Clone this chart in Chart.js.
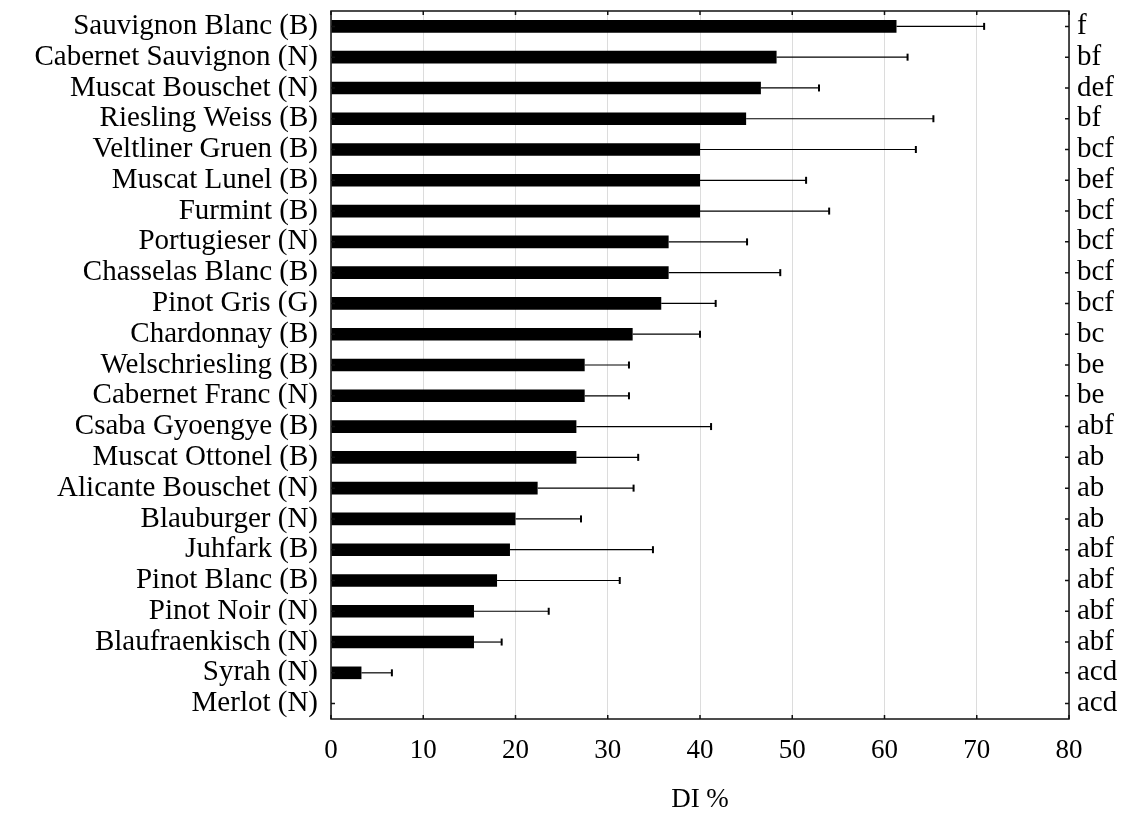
<!DOCTYPE html>
<html>
<head>
<meta charset="utf-8">
<script src="https://cdn.jsdelivr.net/npm/chart.js@4.4.1/dist/chart.umd.min.js"></script>
<style>
  html, body { margin: 0; padding: 0; background: #fff; }
  #wrap { width: 1128px; height: 816px; }
</style>
</head>
<body>
<div id="wrap"><canvas id="chart" width="1128" height="816"></canvas></div>
<script>
const varieties = [
    "Sauvignon Blanc (B)", "Cabernet Sauvignon (N)", "Muscat Bouschet (N)", "Riesling Weiss (B)",
    "Veltliner Gruen (B)", "Muscat Lunel (B)", "Furmint (B)", "Portugieser (N)",
    "Chasselas Blanc (B)", "Pinot Gris (G)", "Chardonnay (B)", "Welschriesling (B)",
    "Cabernet Franc (N)", "Csaba Gyoengye (B)", "Muscat Ottonel (B)", "Alicante Bouschet (N)",
    "Blauburger (N)", "Juhfark (B)", "Pinot Blanc (B)", "Pinot Noir (N)",
    "Blaufraenkisch (N)", "Syrah (N)", "Merlot (N)"
];
const diValues = [
    61.3, 48.3, 46.6, 45.0, 40.0, 40.0, 40.0, 36.6,
    36.6, 35.8, 32.7, 27.5, 27.5, 26.6, 26.6, 22.4,
    20.0, 19.4, 18.0, 15.5, 15.5, 3.3, 0
];
// end of the error bar (mean + error)
const diUpper = [
    70.8, 62.5, 52.9, 65.3, 63.4, 51.5, 54.0, 45.1,
    48.7, 41.7, 40.0, 32.3, 32.3, 41.2, 33.3, 32.8,
    27.1, 34.9, 31.3, 23.6, 18.5, 6.6, 0
];
const groups = [
    "f", "bf", "def", "bf", "bcf", "bef", "bcf", "bcf",
    "bcf", "bcf", "bc", "be", "be", "abf", "ab", "ab",
    "ab", "abf", "abf", "abf", "abf", "acd", "acd"
];
const xTicks = [0, 10, 20, 30, 40, 50, 60, 70, 80];

const serif = "'Liberation Serif', 'DejaVu Serif', serif";

const frameAndErrors = {
    id: "frameAndErrors",
    afterDatasetsDraw(chart) {
        const ctx = chart.ctx;
        const x = chart.scales.x;
        const y = chart.scales.y;
        ctx.save();
        ctx.strokeStyle = "#000";
        diUpper.forEach((hi, i) => {
            const yc = y.getPixelForValue(i);
            const x0 = x.getPixelForValue(diValues[i]);
            const x1 = x.getPixelForValue(hi);
            if (x1 - x0 < 1) return;
            ctx.lineWidth = 1.2;
            ctx.beginPath();
            ctx.moveTo(x0, yc);
            ctx.lineTo(x1, yc);
            ctx.stroke();
            ctx.lineWidth = 2;
            ctx.beginPath();
            ctx.moveTo(x1, yc - 3.5);
            ctx.lineTo(x1, yc + 3.5);
            ctx.stroke();
        });
        ctx.restore();
    },
    afterDraw(chart) {
        const ctx = chart.ctx;
        const a = chart.chartArea;
        const x = chart.scales.x;
        const y = chart.scales.y;
        ctx.save();
        ctx.strokeStyle = "#111";
        ctx.lineWidth = 1.5;
        ctx.strokeRect(a.left, a.top, a.right - a.left, a.bottom - a.top);
        ctx.beginPath();
        xTicks.forEach(v => {
            const px = x.getPixelForValue(v);
            ctx.moveTo(px, a.top);
            ctx.lineTo(px, a.top + 4);
            ctx.moveTo(px, a.bottom);
            ctx.lineTo(px, a.bottom - 4);
        });
        varieties.forEach((_, i) => {
            const py = y.getPixelForValue(i);
            ctx.moveTo(a.left, py);
            ctx.lineTo(a.left + 4, py);
            ctx.moveTo(a.right, py);
            ctx.lineTo(a.right - 4, py);
        });
        ctx.stroke();
        ctx.restore();
    }
};

function noVertPad(scale, width) {
    scale.width = width;
    scale.paddingTop = 0;
    scale.paddingBottom = 0;
}

new Chart(document.getElementById("chart"), {
    type: "bar",
    data: {
        labels: varieties,
        datasets: [{
            label: "DI %",
            data: diValues,
            backgroundColor: "#000",
            borderWidth: 0,
            barPercentage: 0.41,
            categoryPercentage: 1.0,
            yAxisID: "y"
        }]
    },
    options: {
        indexAxis: "y",
        responsive: false,
        animation: false,
        layout: { padding: { top: 11, right: 0, bottom: 0, left: 0 } },
        plugins: {
            legend: { display: false },
            tooltip: { enabled: false }
        },
        scales: {
            x: {
                type: "linear",
                min: 0,
                max: 80,
                ticks: {
                    stepSize: 10,
                    color: "#000",
                    padding: 16,
                    font: { family: serif, size: 27 }
                },
                grid: { display: true, color: "#dcdcdc", lineWidth: 1, drawTicks: false },
                border: { display: false },
                title: {
                    display: true,
                    text: "DI %",
                    color: "#000",
                    padding: { top: 18, bottom: 0 },
                    font: { family: serif, size: 27 }
                },
                afterFit: (scale) => {
                    scale.height = 97;
                    scale.paddingLeft = 0;
                    scale.paddingRight = 0;
                }
            },
            y: {
                position: "left",
                offset: true,
                ticks: {
                    autoSkip: false,
                    color: "#000",
                    padding: 13,
                    font: { family: serif, size: 29 }
                },
                grid: { display: false, drawTicks: false },
                border: { display: false },
                afterFit: (scale) => noVertPad(scale, 331)
            },
            yR: {
                type: "category",
                position: "right",
                labels: groups,
                offset: true,
                ticks: {
                    autoSkip: false,
                    color: "#000",
                    padding: 8,
                    font: { family: serif, size: 29 }
                },
                grid: { display: false, drawTicks: false },
                border: { display: false },
                afterFit: (scale) => noVertPad(scale, 59)
            }
        }
    },
    plugins: [frameAndErrors]
});
</script>
</body>
</html>
